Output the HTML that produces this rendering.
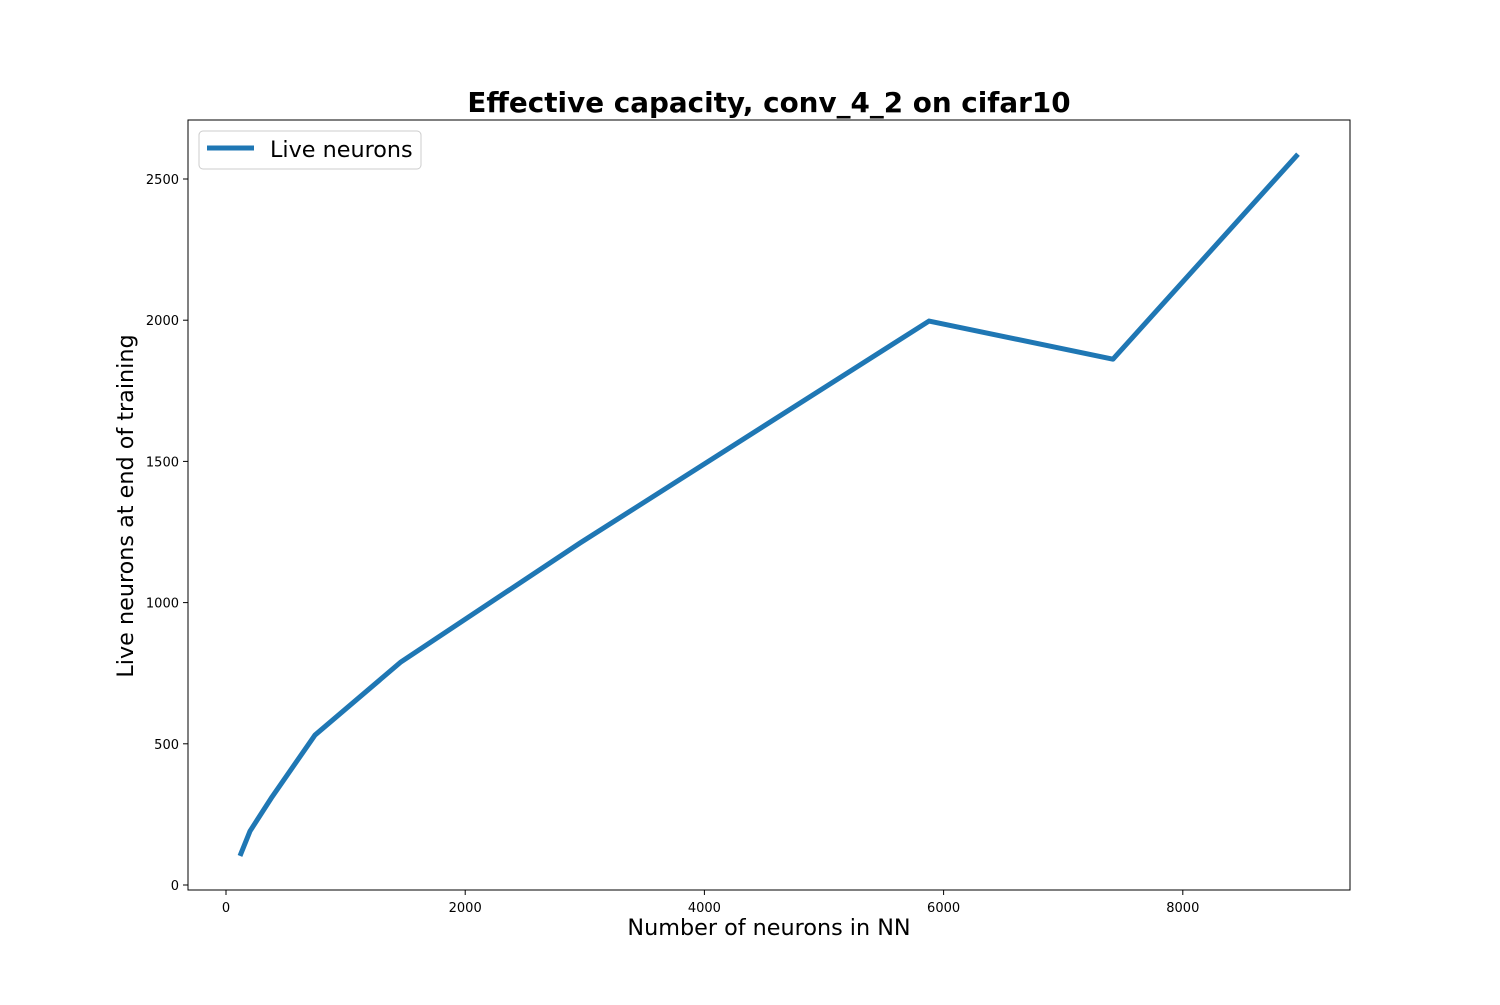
<!DOCTYPE html>
<html><head><meta charset="utf-8"><style>body{margin:0;background:#fff}svg text{font-family:"DejaVu Sans","Liberation Sans",sans-serif}</style></head>
<body>
<svg id="chart" width="1500" height="1000" xmlns="http://www.w3.org/2000/svg">
<text x="769" y="112" text-anchor="middle" font-size="27.8" font-weight="bold">Effective capacity, conv_4_2 on cifar10</text>
<rect x="188" y="120" width="1162" height="770" fill="none" stroke="#000" stroke-width="1"/>
<g id="xt"></g><g id="yt"></g>
<polyline id="line" fill="none" stroke="#1f77b4" stroke-width="5" stroke-linejoin="round"/>
<text x="769" y="935" text-anchor="middle" font-size="22.3">Number of neurons in NN</text>
<text transform="translate(133,506) rotate(-90)" text-anchor="middle" font-size="22.3">Live neurons at end of training</text>
<g>
<rect x="199" y="131" width="222" height="38" rx="4" fill="#fff" stroke="#ccc"/>
<line x1="207" y1="148" x2="254" y2="148" stroke="#1f77b4" stroke-width="5"/>
<text x="270" y="157" font-size="22.3">Live neurons</text>
</g>
</svg>
<script>
const xs=[117,201,385,744,1463,2960,5878,7416,8963];
const ys=[103,191,312,531,790,1211,1997,1862,2588];
const xTicks=[0,2000,4000,6000,8000];
const yTicks=[0,500,1000,1500,2000,2500];
const X=v=>226+v*0.1196, Y=v=>885-v*0.2824;
const ns="http://www.w3.org/2000/svg";
document.getElementById('line').setAttribute('points',xs.map((x,i)=>X(x)+','+Y(ys[i])).join(' '));
const xt=document.getElementById('xt'),yt=document.getElementById('yt');
xTicks.forEach(t=>{const l=document.createElementNS(ns,'line');


l.setAttribute('x1',X(t));l.setAttribute('x2',X(t));l.setAttribute('y1',890);l.setAttribute('y2',895);l.setAttribute('stroke','#000');xt.appendChild(l);
const s=document.createElementNS(ns,'text');


s.setAttribute('x',X(t));s.setAttribute('y',912);s.setAttribute('text-anchor','middle');s.setAttribute('font-size','13');s.textContent=t;xt.appendChild(s);});
yTicks.forEach(t=>{const l=document.createElementNS(ns,'line');


l.setAttribute('x1',183);l.setAttribute('x2',188);l.setAttribute('y1',Y(t));l.setAttribute('y2',Y(t));l.setAttribute('stroke','#000');yt.appendChild(l);
const s=document.createElementNS(ns,'text');


s.setAttribute('x',179);s.setAttribute('y',Y(t)+5);s.setAttribute('text-anchor','end');s.setAttribute('font-size','13');s.textContent=t;yt.appendChild(s);});
</script>
</body></html>
